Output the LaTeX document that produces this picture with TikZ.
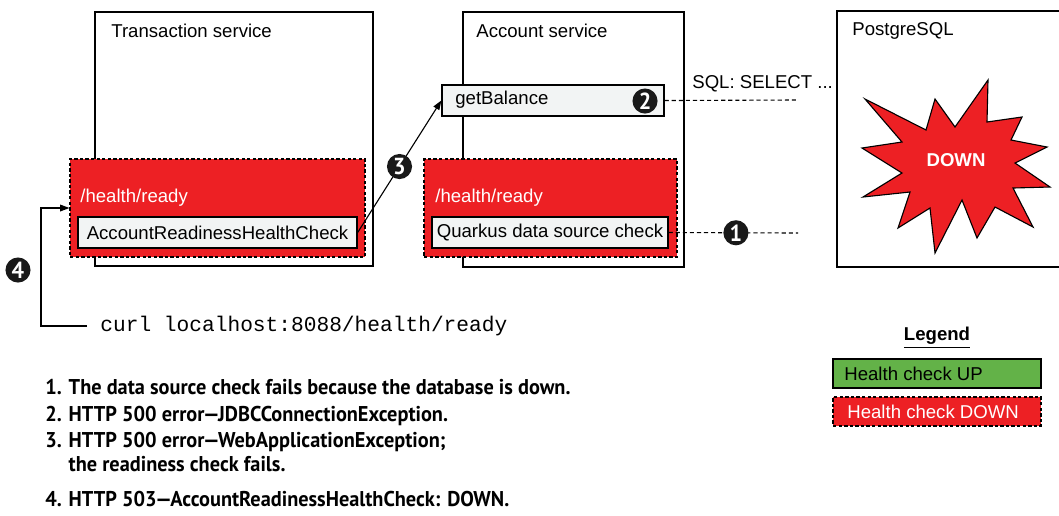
\documentclass[tikz,border=0pt]{standalone}
\usepackage{fontspec}
\setmainfont{Liberation Sans}
\setmonofont{Liberation Mono}
\newfontfamily\notefont[FakeStretch=0.95]{PT Sans}
\usepackage{xcolor}
\usetikzlibrary{arrows.meta,positioning,fit,calc}

\definecolor{downred}{RGB}{237,32,36}
\definecolor{upgreen}{RGB}{99,178,72}
\definecolor{boxgray}{RGB}{242,244,244}
% tight em dash for the notes
\newcommand\notedash{\kern-0.8pt—\kern-0.8pt}

\begin{document}
\begin{tikzpicture}[
  x=0.0189cm, y=-0.0189cm,
  font=\fontsize{10}{12}\selectfont,
  svc/.style={draw,line width=0.6pt,inner sep=0pt},
  title/.style={anchor=west,inner sep=0pt},
  downzone/.style={draw,dash pattern=on 1.8pt off 1.2pt,fill=downred,line width=0.6pt,inner sep=0pt},
  checkbox/.style={draw,fill=boxgray,line width=0.7pt,inner sep=0pt},
  marker/.style={circle,fill=black!90,text=white,inner sep=0pt,minimum size=13.5pt,font=\notefont\bfseries\fontsize{12.5}{12.5}\selectfont},
  dotline/.style={dash pattern=on 2.2pt off 1.6pt,line width=0.6pt},
  arr/.style={-{Triangle[length=5pt,width=3.6pt]},line width=0.6pt},
  note/.style={anchor=base west,inner sep=0pt,font=\notefont\bfseries\fontsize{11.5}{13}\selectfont}
]
\useasboundingbox (0,0) rectangle (1059,515);

% services
\node[svc,fit={(95,12) (373,266)}] (txsvc) {};
\node[title] (txtitle) at (111,31) {Transaction service};
\node[svc,fit={(463,12) (684,267)}] (acsvc) {};
\node[title] (actitle) at (476,31) {Account service};
\node[svc,fit={(837,11) (1066,267)}] (pgsvc) {};
\node[title] (pgtitle) at (852,31) {PostgreSQL};

% readiness endpoints, both reporting down
\node[downzone,fit={(70,159) (365,257)}] (txzone) {};
\node[title,text=white] (txready) at (80,198) {/health/ready};
\node[checkbox,fit={(78,217) (357,248)}] (arhc) {};
\node (arhctxt) at (arhc) {AccountReadinessHealthCheck};
\node[downzone,fit={(424,159) (677,257)}] (aczone) {};
\node[title,text=white] (acready) at (435,198) {/health/ready};
\node[checkbox,fit={(432,217) (668,248)}] (dscheck) {};
\node (dschecktxt) at (dscheck) {Quarkus data source check};

% REST endpoint of the account service
\node[checkbox,fit={(442,85) (664,116)}] (getbal) {};
\node[title] (getbaltxt) at (455,100) {getBalance};
\node[marker] (m2) at (645,101) {2};

% database is gone
\draw[line width=0.6pt,fill=downred] (865,99) -- (926,130) -- (935,99) -- (955,127)
  -- (988,80) -- (987,122) -- (1022,117) -- (1011,140) -- (1047,147) -- (1015,163)
  -- (1050,187) -- (1013,188) -- (1033,227) -- (995,207) -- (977,238) -- (962,200)
  -- (935,253) -- (930,208) -- (898,228) -- (910,192) -- (863,197) -- (902,173)
  -- (862,148) -- (902,142) -- cycle;
\node[text=white,font=\bfseries\fontsize{10}{12}\selectfont] (down) at (956,160) {DOWN};

% calls
\coordinate (sqlend) at (798,100);
\coordinate (dbend) at (798,233);
\draw[dotline] (getbal.east) -- (sqlend);
\node[title] (sql) at (692,84) {SQL: SELECT ...};
\draw[dotline] (dscheck.east) -- node[marker,pos=0.52] (m1) {1} (dbend);
\draw[arr] (arhc.east) -- node[marker,pos=0.5] (m3) {3} (getbal.west);

% client probe
\node[anchor=west,inner xsep=7pt,inner ysep=0pt,font=\ttfamily\fontsize{11.4}{12}\selectfont] (curl) at (87,326) {curl localhost:8088/health/ready};
\draw[arr] (curl.west) -- ++(-46,0) |- (txzone.west);
\node[marker] (m4) at (18,270) {4};

% legend
\node[font=\bfseries\fontsize{10}{12}\selectfont] (legend) at (937,338) {\underline{Legend}};
\node[svc,fill=upgreen,fit={(833,359) (1041,388)}] (upkey) {};
\node[title] (uptxt) at (844,374) {Health check UP};
\node[downzone,fit={(833,397) (1041,426)}] (downkey) {};
\node[title,text=white] (downtxt) at (847,412) {Health check DOWN};

% notes
\node[note] (note1) at (45,394) {1. The data source check fails because the database is down.};
\node[note] (note2) at (45,421) {2. HTTP 500 error\notedash JDBCConnectionException.};
\node[note] (note3) at (45,447) {3. HTTP 500 error\notedash WebApplicationException;};
\node[note] (note3b) at (45,471) {\phantom{3. }the readiness check fails.};
\node[note] (note4) at (45,506) {4. HTTP 503\notedash AccountReadinessHealthCheck: DOWN.};
\end{tikzpicture}
\end{document}
